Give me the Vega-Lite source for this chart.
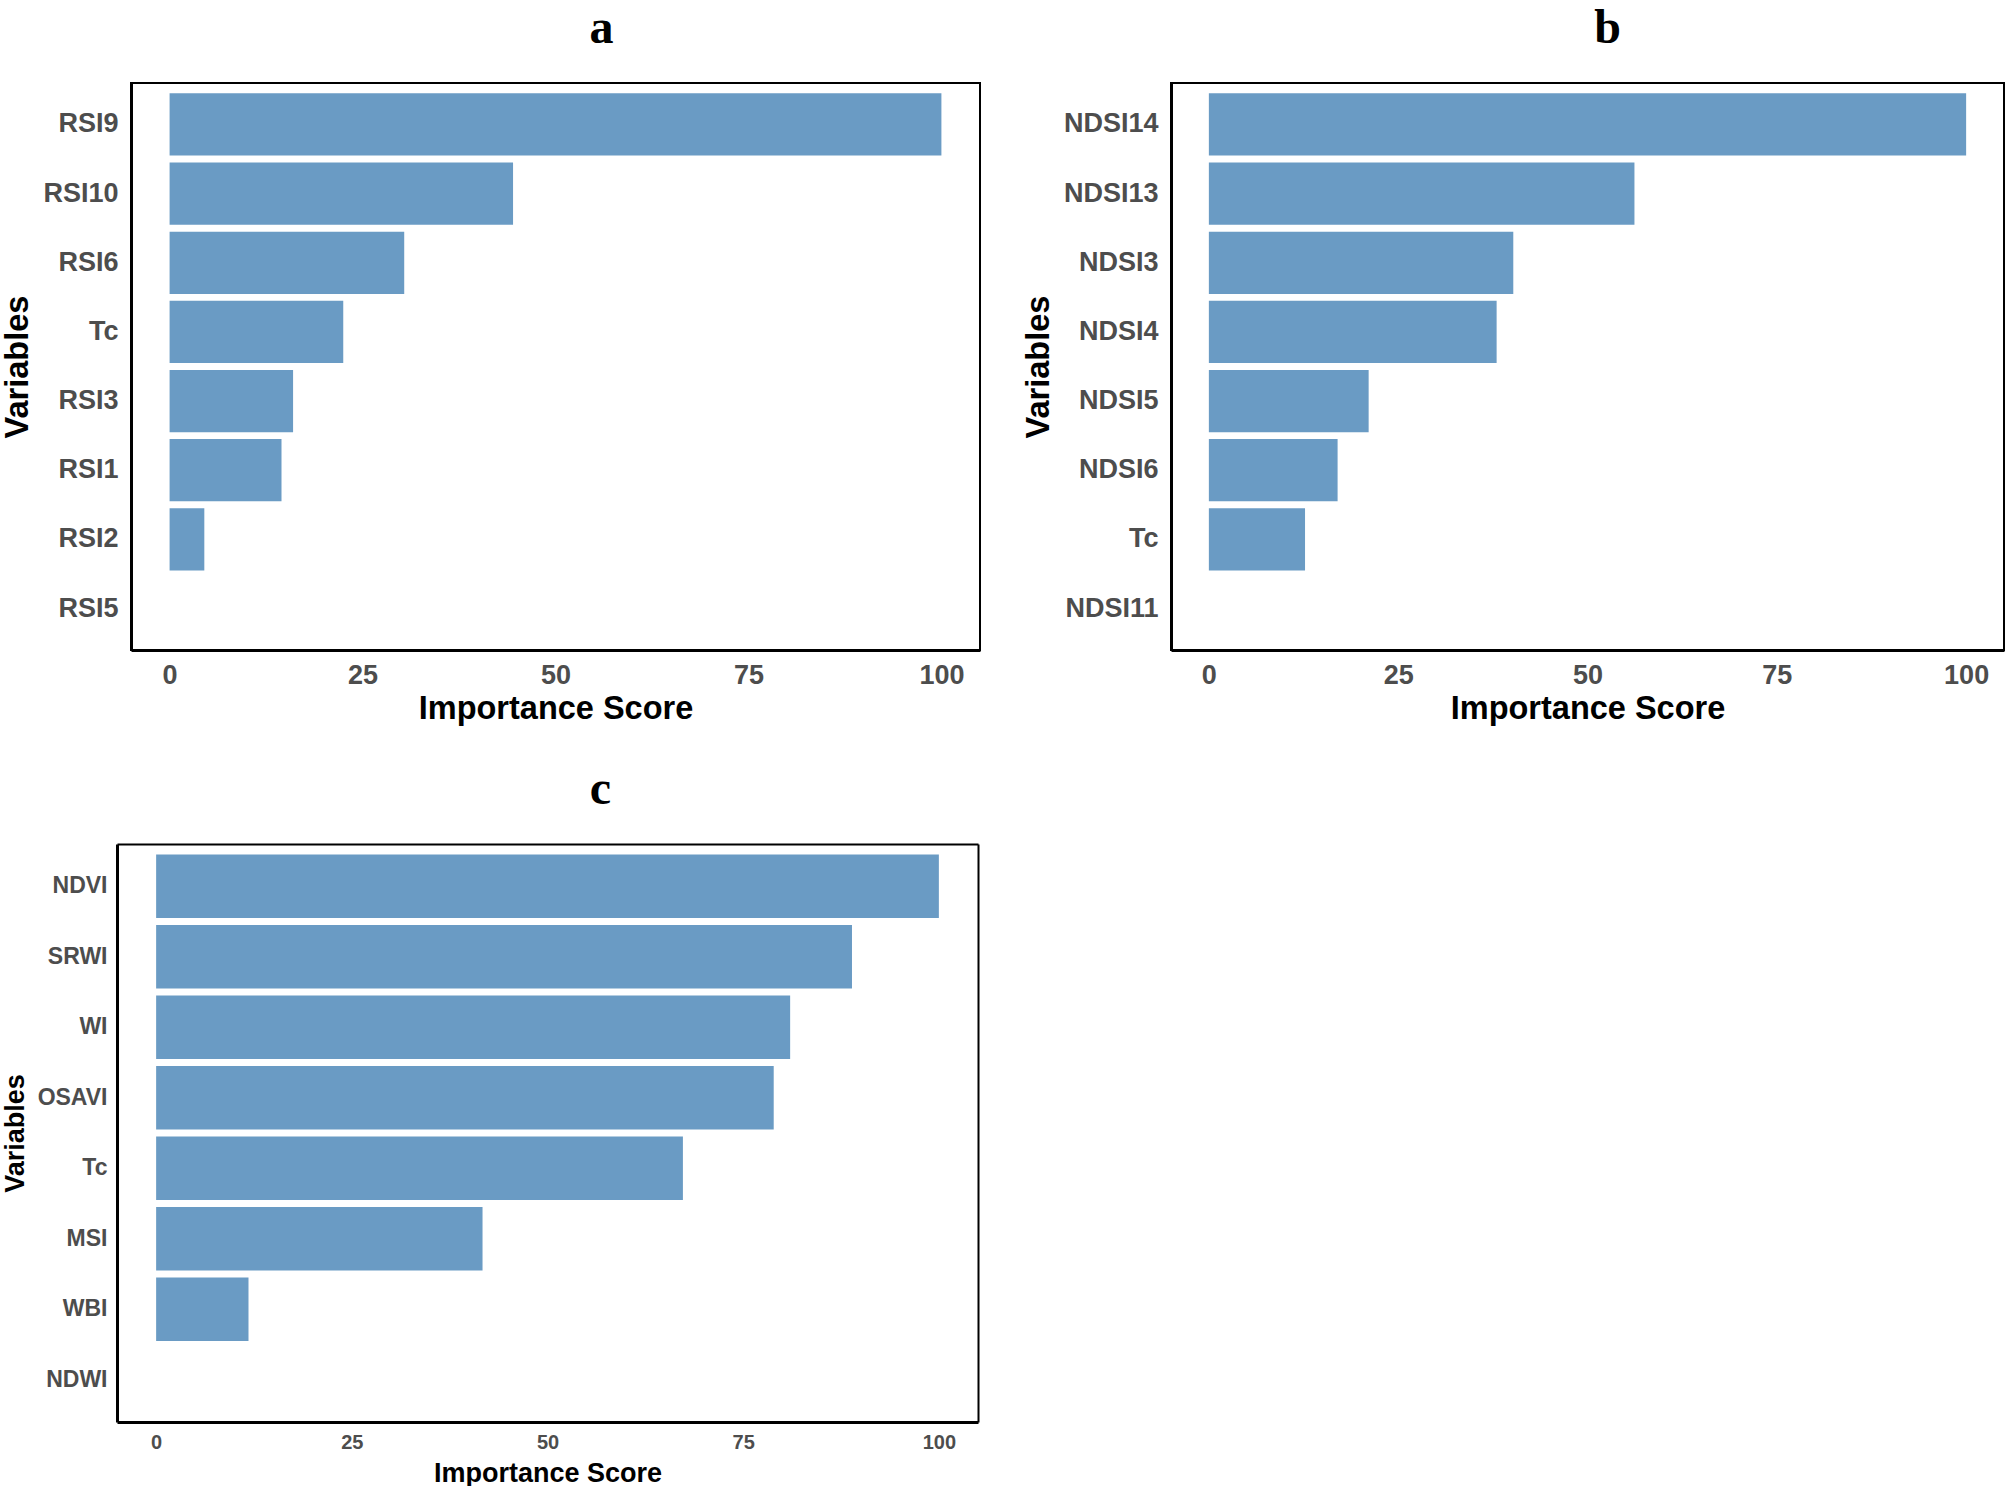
{
  "$schema": "https://vega.github.io/schema/vega-lite/v6.json",
  "padding": {"left": 0, "top": 4, "right": 0, "bottom": 0},
  "background": "white",
  "config": {
    "view": {"stroke": "black", "strokeWidth": 2},
    "title": {"font": "Liberation Serif", "fontWeight": "bold", "fontSize": 48, "color": "black", "anchor": "middle", "frame": "group"},
    "axis": {
      "labelFont": "Liberation Sans", "labelFontWeight": "bold", "labelColor": "#4d4d4d", "labelFontSize": 27,
      "titleFont": "Liberation Sans", "titleFontWeight": "bold", "titleColor": "black", "titleFontSize": 32.5,
      "ticks": false, "grid": false, "domainColor": "black", "domainWidth": 3
    },
    "axisX": {"labelPadding": 12, "titlePadding": 4},
    "axisY": {"labelPadding": 14, "titlePadding": 8}
  },
  "datasets": {
    "a": [
      {"variable": "RSI9", "importance": 100},
      {"variable": "RSI10", "importance": 44.5},
      {"variable": "RSI6", "importance": 30.4},
      {"variable": "Tc", "importance": 22.5},
      {"variable": "RSI3", "importance": 16.0},
      {"variable": "RSI1", "importance": 14.5},
      {"variable": "RSI2", "importance": 4.5},
      {"variable": "RSI5", "importance": 0}
    ],
    "b": [
      {"variable": "NDSI14", "importance": 100},
      {"variable": "NDSI13", "importance": 56.2},
      {"variable": "NDSI3", "importance": 40.2},
      {"variable": "NDSI4", "importance": 38.0},
      {"variable": "NDSI5", "importance": 21.1},
      {"variable": "NDSI6", "importance": 17.0},
      {"variable": "Tc", "importance": 12.7},
      {"variable": "NDSI11", "importance": 0}
    ],
    "c": [
      {"variable": "NDVI", "importance": 100},
      {"variable": "SRWI", "importance": 88.9},
      {"variable": "WI", "importance": 81.0},
      {"variable": "OSAVI", "importance": 78.9},
      {"variable": "Tc", "importance": 67.3},
      {"variable": "MSI", "importance": 41.7},
      {"variable": "WBI", "importance": 11.8},
      {"variable": "NDWI", "importance": 0}
    ]
  },
  "spacing": 40,
  "vconcat": [
    {
      "spacing": 40,
      "hconcat": [
        {
          "width": 849, "height": 567,
          "title": {"text": "a", "dx": 46, "offset": 30},
          "data": {"name": "a"},
          "mark": {"type": "bar", "color": "#6a9bc4"},
          "encoding": {
            "y": {"field": "variable", "type": "nominal", "sort": null, "scale": {"paddingInner": 0.1, "paddingOuter": 0.15}, "axis": {"title": "Variables", "labelPadding": 13}},
            "x": {"field": "importance", "type": "quantitative", "scale": {"domain": [-5, 105], "nice": false, "zero": false}, "axis": {"values": [0, 25, 50, 75, 100], "title": "Importance Score"}},
            "x2": {"datum": 0}
          }
        },
        {
          "width": 833, "height": 567,
          "title": {"text": "b", "dx": 20, "offset": 30},
          "data": {"name": "b"},
          "mark": {"type": "bar", "color": "#6a9bc4"},
          "encoding": {
            "y": {"field": "variable", "type": "nominal", "sort": null, "scale": {"paddingInner": 0.1, "paddingOuter": 0.15}, "axis": {"title": "Variables", "labelPadding": 13}},
            "x": {"field": "importance", "type": "quantitative", "scale": {"domain": [-5, 105], "nice": false, "zero": false}, "axis": {"values": [0, 25, 50, 75, 100], "title": "Importance Score"}},
            "x2": {"datum": 0}
          }
        }
      ]
    },
    {
      "width": 847, "height": 578,
      "view": {"stroke": null},
      "title": {"text": "c", "dx": 46, "offset": 30},
      "data": {"name": "c"},
      "layer": [
        {
          "mark": {"type": "bar", "color": "#6a9bc4"},
          "encoding": {
            "y": {"field": "variable", "type": "nominal", "sort": null, "scale": {"paddingInner": 0.1, "paddingOuter": 0.15}, "axis": {"title": "Variables", "labelFontSize": 23, "titleFontSize": 27, "labelPadding": 10, "offset": 14}},
            "x": {"field": "importance", "type": "quantitative", "scale": {"domain": [-5, 105], "range": [-14, 847], "nice": false, "zero": false}, "axis": {"values": [0, 25, 50, 75, 100], "title": "Importance Score", "labelFontSize": 20, "titleFontSize": 27, "labelPadding": 10, "titlePadding": 8}},
            "x2": {"datum": 0}
          }
        },
        {
          "mark": {"type": "bar", "opacity": 0},
          "encoding": {
            "y": {"field": "variable", "type": "nominal", "sort": null, "axis": {"orient": "right", "labels": false, "title": null, "domainWidth": 2}},
            "x": {"field": "importance", "type": "quantitative", "axis": {"orient": "top", "labels": false, "title": null, "domainWidth": 2}},
            "x2": {"datum": 0}
          }
        }
      ],
      "resolve": {"axis": {"x": "independent", "y": "independent"}}
    }
  ]
}
